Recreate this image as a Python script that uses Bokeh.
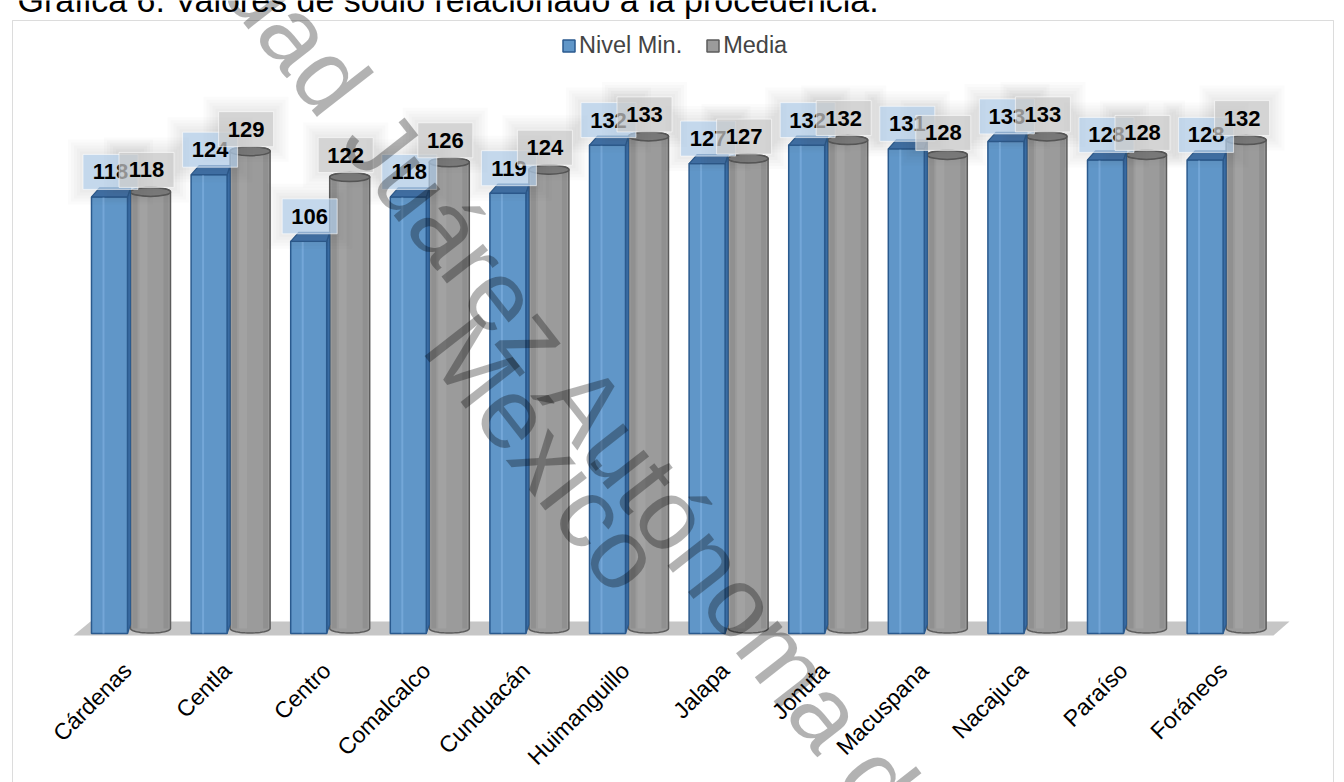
import numpy as np
from math import pi, radians, cos, sin
from bokeh.plotting import figure
from bokeh.models import Range1d, ColumnDataSource, Label, Legend, LegendItem, BoxAnnotation
from bokeh.core.properties import value
from bokeh.embed import file_html
from bokeh.resources import INLINE

# ---- data -------------------------------------------------------------
categories = ["Cárdenas", "Centla", "Centro", "Comalcalco", "Cunduacán", "Huimanguillo",
              "Jalapa", "Jonuta", "Macuspana", "Nacajuca", "Paraíso", "Foráneos"]
nivel_min = [118, 124, 106, 118, 119, 132, 127, 132, 131, 133, 128, 128]
media = [118, 129, 122, 126, 124, 133, 127, 132, 128, 133, 128, 132]
series_names = ["Nivel Min.", "Media"]
title_text = "Gráfica 6. Valores de sodio relacionado a la procedencia."
watermark_lines = ["Universidad Juárez Autónoma de Tabasco", "México"]

# ---- page geometry ----------------------------------------------------
W, H = 1344, 782
X0, SX = 130.0, 99.6   # pixel of the first category centre, pixels per category
Y0, SY = 633.0, 3.7    # pixel row of value 0, pixels per unit


def ux(px):
    return px / SX


def uy(px):
    return px / SY


def X(px):
    return (px - X0) / SX


def Y(py):
    return (Y0 - py) / SY


FONT = value("Liberation Sans")

p = figure(width=W, height=H, x_range=Range1d(X(0), X(W)), y_range=Range1d(Y(H), Y(0)),
           toolbar_location=None, output_backend="svg", min_border=0,
           x_axis_type=None, y_axis_type=None, outline_line_color=None,
           background_fill_color="white", border_fill_color="white")
p.xgrid.visible = False
p.ygrid.visible = False

idx = np.arange(len(categories), dtype=float)
vmin = np.array(nivel_min, dtype=float)
vmed = np.array(media, dtype=float)

# chart frame
p.add_layout(BoxAnnotation(left=X(12), right=X(1333), top=Y(20), bottom=Y(900),
                           fill_alpha=0, line_color="#8c8c8c", line_width=1))

# floor of the 3-D plot area
p.patch([X(90), X(1289), X(1273), X(73)], [Y(621), Y(621), Y(635), Y(635)],
        fill_color="#c6c6c6", line_color=None)

# ---- Media: grey cylinders --------------------------------------------
a = ux(20)
b = uy(4.5)
lift = uy(5)
cx = idx + ux(20)
t_low = np.linspace(pi, 2 * pi, 25)
t_up = np.linspace(0, pi, 25)
cyl_xs, cyl_ys = [], []
for c, v in zip(cx, vmed):
    xs = list(c + a * np.cos(t_low)) + list(c + a * np.cos(t_up))
    ys = list(lift + b * np.sin(t_low)) + list(v + lift + b * np.sin(t_up))
    cyl_xs.append(xs)
    cyl_ys.append(ys)
gray_r = p.patches(cyl_xs, cyl_ys, fill_color="#9b9b9b", line_color="#5c5c5c", line_width=1.5)
# soft shading on the cylinder body
p.quad(left=cx - a + ux(2), right=cx - a + ux(7), bottom=lift, top=vmed + lift,
       fill_color="#858585", fill_alpha=0.5, line_color=None)
p.quad(left=cx - a + ux(9), right=cx - a + ux(17), bottom=lift, top=vmed + lift,
       fill_color="#aaaaaa", fill_alpha=0.45, line_color=None)
p.quad(left=cx + a - ux(7), right=cx + a - ux(2), bottom=lift, top=vmed + lift,
       fill_color="#858585", fill_alpha=0.5, line_color=None)
p.ellipse(x=cx, y=vmed + lift, width=2 * a, height=2 * b,
          fill_color="#7c7c7c", line_color="#555555", line_width=1.5)

# ---- Nivel Min.: blue prisms ------------------------------------------
bl = idx - ux(39)
br = idx - ux(3)
dxl, dxr, dy = ux(8), ux(3), uy(9)
side_xs = [[r, r + dxr, r + dxr, r] for r in br]
side_ys = [[0, dy, v + dy, v] for v in vmin]
p.patches(side_xs, side_ys, fill_color="#3a6ca3", line_color="#2a5a8e", line_width=1.2)
blue_r = p.quad(left=bl, right=br, bottom=0, top=vmin,
                fill_color="#6096c8", line_color="#2a5a8e", line_width=1.5)
p.segment(x0=bl + ux(12), y0=0, x1=bl + ux(12), y1=vmin,
          line_color="#82b2e2", line_width=2, line_alpha=0.6)
top_xs = [[l, l + dxl, r + dxr, r] for l, r in zip(bl, br)]
top_ys = [[v, v + dy, v + dy, v] for v in vmin]
p.patches(top_xs, top_ys, fill_color="#3f71a8", line_color="#2a5a8e", line_width=1.2)

# ---- data labels --------------------------------------------------------
lab_blue = ColumnDataSource(dict(x=idx - ux(20), y=vmin + uy(25), t=[str(v) for v in nivel_min]))
lab_gray = ColumnDataSource(dict(x=idx + ux(16), y=vmed + lift + uy(22), t=[str(v) for v in media]))
for src in (lab_blue, lab_gray):
    for k in range(1, 6):
        p.rect(x="x", y="y", width=55 + 6 * k, height=35 + 6 * k, source=src,
               width_units="screen", height_units="screen",
               fill_color="#404040", fill_alpha=0.022, line_color=None)
p.rect(x="x", y="y", width=55, height=35, source=lab_blue, width_units="screen",
       height_units="screen", fill_color="#b4d0ec", fill_alpha=0.72,
       line_color="white", line_alpha=0.6)
p.text(x="x", y="y", text="t", source=lab_blue, text_font=FONT, text_font_style="bold",
       text_font_size="22px", text_align="center", text_baseline="middle", text_color="black")
p.rect(x="x", y="y", width=55, height=35, source=lab_gray, width_units="screen",
       height_units="screen", fill_color="#cacaca", fill_alpha=0.72,
       line_color="white", line_alpha=0.6)
p.text(x="x", y="y", text="t", source=lab_gray, text_font=FONT, text_font_style="bold",
       text_font_size="22px", text_align="center", text_baseline="middle", text_color="black")

# ---- category labels ------------------------------------------------------
p.text(x=idx - ux(3), y=np.full(len(idx), Y(666)), text=categories, angle=pi / 4,
       text_font=FONT, text_font_size="23px", text_align="right", text_baseline="middle",
       text_color="black")

# ---- legend -------------------------------------------------------------
legend = Legend(items=[LegendItem(label=series_names[0], renderers=[blue_r]),
                       LegendItem(label=series_names[1], renderers=[gray_r])],
                orientation="horizontal", location=(561, 723), glyph_width=15, glyph_height=15,
                label_standoff=3, spacing=23, padding=0, margin=0,
                label_text_font="Liberation Sans", label_text_font_size="23.5px",
                border_line_color=None, background_fill_alpha=0)
p.add_layout(legend)

# ---- caption above the frame (runs off the top edge of the page) ----------
p.add_layout(Label(x=X(17), y=Y(-1), text=title_text, text_font="Liberation Sans",
                   text_font_size="34px", text_color="black", text_baseline="alphabetic"))

# ---- diagonal watermark -----------------------------------------------------
ang = radians(52)
d = np.array([cos(ang), sin(ang)])
up = np.array([sin(ang), -cos(ang)])
F = 100.0
anchor1 = np.array([615.0, 385.0]) - 9.169 * F * d - 0.35 * F * up
anchor2 = np.array([575.0, 435.0]) - 1.639 * F * d - 0.35 * F * up
for txt, anc in zip(watermark_lines, (anchor1, anchor2)):
    p.add_layout(Label(x=X(anc[0]), y=Y(anc[1]), text=txt, angle=-ang,
                       text_font="Liberation Sans", text_font_size=f"{int(F)}px",
                       text_color="black", text_alpha=0.3, text_baseline="alphabetic"))

open("out.html", "w").write(file_html(p, INLINE))
